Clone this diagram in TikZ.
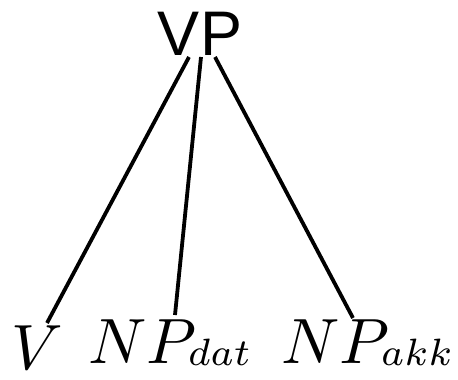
\documentclass[tikz,border=0pt]{standalone}
\usepackage{graphicx}
\usepackage{fontspec}
\setsansfont{Liberation Sans}
\newcommand{\subtxt}[1]{\kern-1.39pt\raisebox{-0.4pt}{\scalebox{0.85}{$\scriptstyle #1$}}}
\begin{document}
\begin{tikzpicture}[x=1pt,y=-1pt,
  edge/.style={line width=3.8pt},
  cat/.style={inner sep=0pt,anchor=base,font=\sffamily,scale=6.3},
  leaf/.style={inner sep=0pt,anchor=base west,scale=6.4}]
\useasboundingbox (0,0) rectangle (458,380);
\node[cat] (vp) at (200,55) {VP};
\node[leaf] (v) at (10,369) {$V$};
\node[leaf] (npd) at (87,363) {$NP$\subtxt{dat}};
\node[leaf] (npa) at (280,363) {$NP$\subtxt{akk}};
\coordinate (t1) at (189,57);
\coordinate (t2) at (201,57);
\coordinate (t3) at (215,57);
\coordinate (b1) at (47,323);
\coordinate (b2) at (175,315);
\coordinate (b3) at (353,318);
\draw[edge] (t1) -- (b1);
\draw[edge] (t2) -- (b2);
\draw[edge] (t3) -- (b3);
\end{tikzpicture}
\end{document}
